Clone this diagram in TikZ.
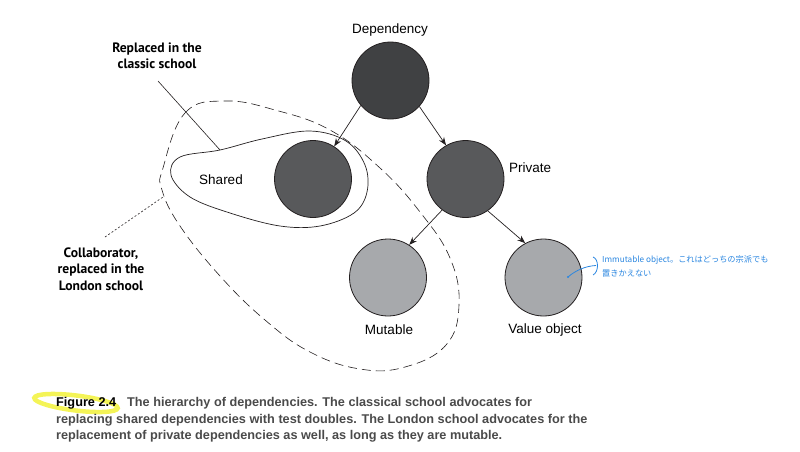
\documentclass[tikz,border=0pt]{standalone}
\usepackage{fontspec}
\setmainfont{Liberation Sans}
\newfontfamily\labfont{PT Sans}
\newfontfamily\capfont{Liberation Sans}
\newfontfamily\jpfont{Noto Sans CJK JP}
\usetikzlibrary{arrows.meta}
\definecolor{cdep}{HTML}{404143}
\definecolor{cmid}{HTML}{58595B}
\definecolor{clight}{HTML}{A7A9AC}
\definecolor{cedge}{HTML}{231F20}
\definecolor{cblue}{HTML}{2A86E0}
\definecolor{ccap}{HTML}{4A4A4A}
\definecolor{chl}{HTML}{F2F23A}
\begin{document}
\begin{tikzpicture}[x=1pt,y=-1pt,
  ball/.style={circle,draw=cedge,line width=0.8pt,minimum size=77pt,inner sep=0pt},
  lab/.style={font=\fontsize{13.5}{15}\selectfont,text=black,inner sep=0pt},
  note/.style={font=\labfont\bfseries\fontsize{13.6}{16.5}\selectfont,align=center,inner sep=0pt,text=black},
  arr/.style={-{Stealth[length=8pt,width=6pt]},line width=0.7pt,draw=cedge},
  captext/.style={font=\capfont\bfseries\fontsize{12.7}{16}\selectfont,text=ccap,anchor=west,inner sep=0pt}]
\useasboundingbox (0,0) rectangle (800,451);
% nodes
\node[ball,fill=cdep] (dep) at (390.5,80.5) {};
\node[ball,fill=cmid] (sh) at (313,179) {};
\node[ball,fill=cmid] (pr) at (465.5,179) {};
\node[ball,fill=clight] (mu) at (388,277.5) {};
\node[ball,fill=clight] (vo) at (543.5,277.5) {};
% labels
\node[lab] (ldep) at (390,30) {Dependency};
\node[lab,anchor=west] (lpr) at (509,168) {Private};
\node[lab] (lmu) at (389,330) {Mutable};
\node[lab] (lvo) at (545,330) {Value object};
\node[lab] (lsh) at (221,180) {Shared};
% arrows
\draw[arr] (dep.220) -- (sh.57);
\draw[arr] (dep.318) -- (pr.120);
\draw[arr] (pr.233) -- (mu.57);
\draw[arr] (pr.305) -- (vo.118);
% dashed boundary
\draw[dash pattern=on 9pt off 5pt,line width=0.6pt,draw=cedge]
  plot[smooth cycle,tension=0.7] coordinates {(163,168) (185,113) (225,101) (275,110) (330,130) (380,168) (420,212) (450,258) (459,305) (446,345) (405,367) (360,369) (310,352) (265,320) (220,276) (180,226) (162,190)};
% solid shared blob
\draw[line width=0.7pt,draw=cedge]
  plot[smooth cycle,tension=0.6] coordinates {(220,150) (262,139) (310,131) (346,141) (365,165) (367,192) (354,213) (320,226) (280,226) (230,213) (190,197) (171,175) (180,157)};
% annotations
\coordinate (c1a) at (158,81);
\coordinate (c1b) at (220,150);
\draw[line width=0.6pt,draw=cedge] (c1a) -- (c1b);
\node[note] (n1) at (157,56) {Replaced in the\\classic school};
\coordinate (c2a) at (105,237);
\coordinate (c2b) at (163,197);
\draw[dash pattern=on 2pt off 2pt,line width=0.6pt,draw=cedge] (c2a) -- (c2b);
\node[note] (n2) at (101,269) {Collaborator,\\replaced in the\\London school};
% blue note
\coordinate (bdot) at (568,277);
\coordinate (bmid) at (596,265.5);
\fill[cblue] (bdot) circle (1.1pt);
\draw[cblue,line width=0.8pt] (bdot) .. controls (576,270) and (586,266) .. (bmid);
\draw[cblue,line width=0.8pt] (593,257) .. controls (599,259) and (599,272) .. (593,275);
\node[font=\jpfont\fontsize{8.2}{14}\selectfont,text=cblue,anchor=north west,align=left,inner sep=0pt] (bn) at (602,255) {Immutable object。これはどっちの宗派でも\\置きかえない};
% caption
\draw[chl,line width=4.5pt,opacity=0.85,rotate around={-7:(76,403)}] (76,403) ellipse [x radius=42pt,y radius=7.5pt];
\node[captext,text=black] (fig) at (56,403) {Figure 2.4};
\node[captext] (c1) at (127,403) {The hierarchy of dependencies. The classical school advocates for};
\node[captext] (c2) at (56,420) {replacing shared dependencies with test doubles. The London school advocates for the};
\node[captext] (c3) at (56,436) {replacement of private dependencies as well, as long as they are mutable.};
\end{tikzpicture}
\end{document}
